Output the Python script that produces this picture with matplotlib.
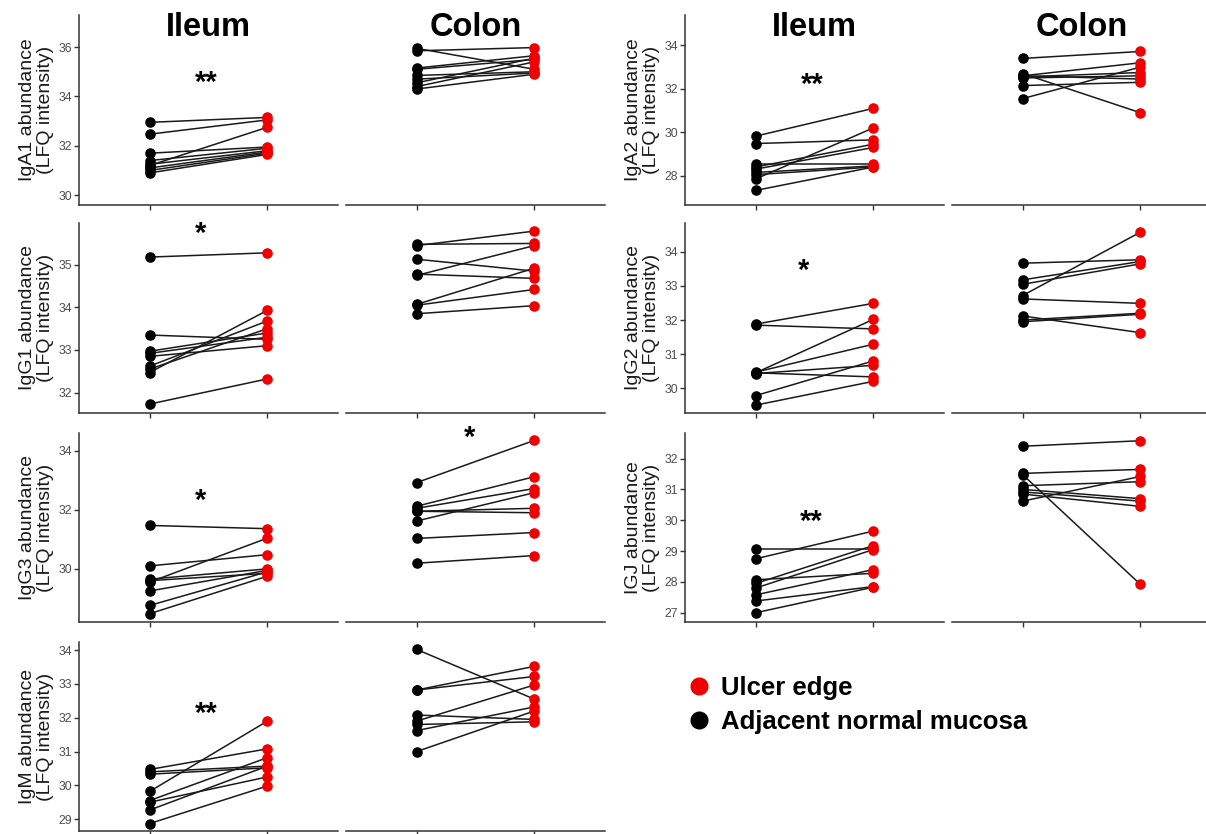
import matplotlib
matplotlib.use("Agg")
import matplotlib.pyplot as plt
from matplotlib.lines import Line2D
from matplotlib.transforms import offset_copy

plt.rcParams['font.family'] = ['Liberation Sans', 'DejaVu Sans']

W, H = 1206, 834

# values: adjacent normal mucosa (x=1) -> ulcer edge (x=2)
iga1_ileum_normal = [32.95, 32.47, 31.20, 31.70, 31.40, 31.25, 31.10, 31.00, 30.90]
iga1_ileum_ulcer = [33.15, 33.05, 32.75, 31.95, 31.90, 31.80, 31.75, 31.70, 31.65]
iga1_colon_normal = [35.85, 35.95, 35.15, 35.10, 34.85, 34.70, 34.55, 34.40, 34.30]
iga1_colon_ulcer = [35.98, 35.10, 35.65, 35.50, 35.00, 34.95, 35.55, 35.40, 34.90]

iga2_ileum_normal = [29.82, 29.48, 27.85, 28.40, 28.30, 28.55, 28.15, 28.05, 27.32]
iga2_ileum_ulcer = [31.10, 29.65, 30.20, 29.45, 29.30, 28.55, 28.45, 28.40, 28.40]
iga2_colon_normal = [33.40, 32.60, 31.55, 32.70, 32.55, 32.50, 32.60, 32.15]
iga2_colon_ulcer = [33.72, 33.20, 33.00, 30.90, 32.75, 32.60, 32.45, 32.30]

igg1_ileum_normal = [35.18, 33.35, 32.97, 32.92, 32.85, 32.62, 32.47, 32.55, 31.73]
igg1_ileum_ulcer = [35.28, 33.25, 33.40, 33.30, 33.10, 33.68, 33.93, 33.50, 32.32]
igg1_colon_normal = [35.45, 35.48, 35.13, 34.75, 34.78, 34.07, 34.05, 33.85]
igg1_colon_ulcer = [35.79, 35.50, 34.85, 35.45, 34.68, 34.92, 34.42, 34.04]

igg2_ileum_normal = [31.88, 31.85, 30.45, 30.47, 30.43, 30.45, 29.78, 29.50]
igg2_ileum_ulcer = [32.49, 31.74, 32.02, 31.29, 30.67, 30.33, 30.80, 30.20]
igg2_colon_normal = [33.67, 33.18, 33.05, 32.72, 32.62, 32.12, 32.00, 31.95]
igg2_colon_ulcer = [33.77, 33.72, 33.65, 34.58, 32.49, 31.63, 32.20, 32.17]

igg3_ileum_normal = [31.47, 30.10, 29.55, 29.65, 29.60, 29.25, 28.76, 28.48]
igg3_ileum_ulcer = [31.36, 30.48, 31.04, 30.00, 29.85, 29.95, 29.90, 29.75]
igg3_colon_normal = [32.92, 32.12, 32.05, 31.62, 31.95, 31.95, 31.03, 30.19]
igg3_colon_ulcer = [34.35, 33.12, 32.72, 32.58, 32.05, 31.90, 31.23, 30.45]

igj_ileum_normal = [29.07, 28.75, 28.07, 27.95, 27.80, 27.58, 27.38, 27.00]
igj_ileum_ulcer = [29.07, 29.65, 28.28, 29.18, 29.05, 28.40, 27.85, 27.83]
igj_colon_normal = [32.40, 31.52, 31.48, 31.12, 31.00, 30.92, 30.85, 30.62]
igj_colon_ulcer = [32.58, 31.65, 27.92, 31.25, 30.70, 30.62, 30.45, 31.42]

igm_ileum_normal = [30.47, 30.40, 30.33, 29.82, 29.55, 29.50, 29.27, 28.87]
igm_ileum_ulcer = [31.08, 30.57, 30.52, 31.90, 30.82, 30.25, 30.57, 29.98]
igm_colon_normal = [34.02, 32.82, 32.82, 31.90, 32.08, 31.80, 31.62, 31.00]
igm_colon_ulcer = [32.55, 33.52, 33.22, 32.97, 31.95, 31.88, 32.32, 32.20]

# (label, ileum normal, ileum ulcer, colon normal, colon ulcer, ylim, yticks,
#  ileum stars, colon stars, column, row)
panels = [
    ('IgA1', iga1_ileum_normal, iga1_ileum_ulcer, iga1_colon_normal, iga1_colon_ulcer,
     (29.6, 37.3), [30, 32, 34, 36], ('**', 1.48, 34.83), None, 0, 0),
    ('IgA2', iga2_ileum_normal, iga2_ileum_ulcer, iga2_colon_normal, iga2_colon_ulcer,
     (26.65, 35.4), [28, 30, 32, 34], ('**', 1.48, 32.51), None, 1, 0),
    ('IgG1', igg1_ileum_normal, igg1_ileum_ulcer, igg1_colon_normal, igg1_colon_ulcer,
     (31.52, 35.98), [32, 33, 34, 35], ('*', 1.43, 35.88), None, 0, 1),
    ('IgG2', igg2_ileum_normal, igg2_ileum_ulcer, igg2_colon_normal, igg2_colon_ulcer,
     (29.27, 34.85), [30, 31, 32, 33, 34], ('*', 1.41, 33.66), None, 1, 1),
    ('IgG3', igg3_ileum_normal, igg3_ileum_ulcer, igg3_colon_normal, igg3_colon_ulcer,
     (28.2, 34.6), [30, 32, 34], ('*', 1.43, 32.53), ('*', 1.45, 34.68), 0, 2),
    ('IGJ', igj_ileum_normal, igj_ileum_ulcer, igj_colon_normal, igj_colon_ulcer,
     (26.7, 32.83), [27, 28, 29, 30, 31, 32], ('**', 1.475, 30.16), None, 1, 2),
    ('IgM', igm_ileum_normal, igm_ileum_ulcer, igm_colon_normal, igm_colon_ulcer,
     (28.65, 34.24), [29, 30, 31, 32, 33, 34], ('**', 1.48, 32.33), None, 0, 3),
]

col_x = [(79, 338, 346, 605), (685, 944, 952, 1211)]
row_y = [(15, 205), (223, 413), (433, 622), (642, 831)]

RED = '#f00000'
AXC = '#333333'

fig = plt.figure(figsize=(W / 100, H / 100), dpi=100)


def make_ax(x0, x1, y0, y1):
    return fig.add_axes([x0 / W, 1 - y1 / H, (x1 - x0) / W, (y1 - y0) / H])


def draw(ax, normal, ulcer, ylim, show_y):
    for a, b in zip(normal, ulcer):
        ax.plot([1, 2], [a, b], color='#1a1a1a', lw=1.1, zorder=2)
    ax.scatter([1] * len(normal), normal, s=58, color='black', lw=0, zorder=3)
    ax.scatter([2] * len(ulcer), ulcer, s=58, color=RED, lw=0, zorder=3)
    ax.set_xlim(0.4, 2.6)
    ax.set_ylim(*ylim)
    ax.set_xticks([1, 2])
    ax.set_xticklabels([])
    for s in ['top', 'right']:
        ax.spines[s].set_visible(False)
    ax.spines['bottom'].set_color(AXC)
    ax.spines['bottom'].set_linewidth(1.1)
    ax.tick_params(axis='x', length=3.5, width=1, color=AXC)
    if show_y:
        ax.spines['left'].set_color(AXC)
        ax.spines['left'].set_linewidth(1.1)
        ax.tick_params(axis='y', length=3.5, width=1, color=AXC,
                       labelsize=8.8, labelcolor='#4d4d4d', pad=1.5)
    else:
        ax.spines['left'].set_visible(False)
        ax.set_yticks([])


def stars(ax, st):
    tr = offset_copy(ax.transData, fig=fig, y=-5, units='points')
    ax.text(st[1], st[2], st[0], ha='center', va='center', transform=tr,
            fontsize=21, fontweight='bold', clip_on=False)


for (name, iln, ilu, con, cou, ylim, yt, st_i, st_c, c, r) in panels:
    xa, xb, xc, xd = col_x[c]
    y0, y1 = row_y[r]
    ax_i = make_ax(xa, xb, y0, y1)
    ax_c = make_ax(xc, xd, y0, y1)
    draw(ax_i, iln, ilu, ylim, True)
    draw(ax_c, con, cou, ylim, False)
    ax_i.set_yticks(yt)
    ax_i.set_ylabel(name + ' abundance\n(LFQ intensity)', fontsize=14,
                    color='#1a1a1a', labelpad=3, linespacing=1.12)
    if st_i:
        stars(ax_i, st_i)
    if st_c:
        stars(ax_c, st_c)

for xa, xb, xc, xd in col_x:
    fig.text((xa + xb) / 2 / W, 1 - 28 / H, 'Ileum', ha='center', va='center',
             fontsize=23.5, fontweight='bold')
    fig.text((xc + xd) / 2 / W, 1 - 28 / H, 'Colon', ha='center', va='center',
             fontsize=23.5, fontweight='bold')

handles = [Line2D([], [], marker='o', ls='', color=RED, ms=12),
           Line2D([], [], marker='o', ls='', color='black', ms=12)]
fig.legend(handles, ['Ulcer edge', 'Adjacent normal mucosa'], loc='center left',
           bbox_to_anchor=(673 / W, 1 - 705 / H), frameon=False,
           prop={'weight': 'bold', 'size': 18.5}, handletextpad=0.25,
           labelspacing=0.38, borderaxespad=0, handlelength=1.2)

fig.savefig('out.png', dpi=100)
